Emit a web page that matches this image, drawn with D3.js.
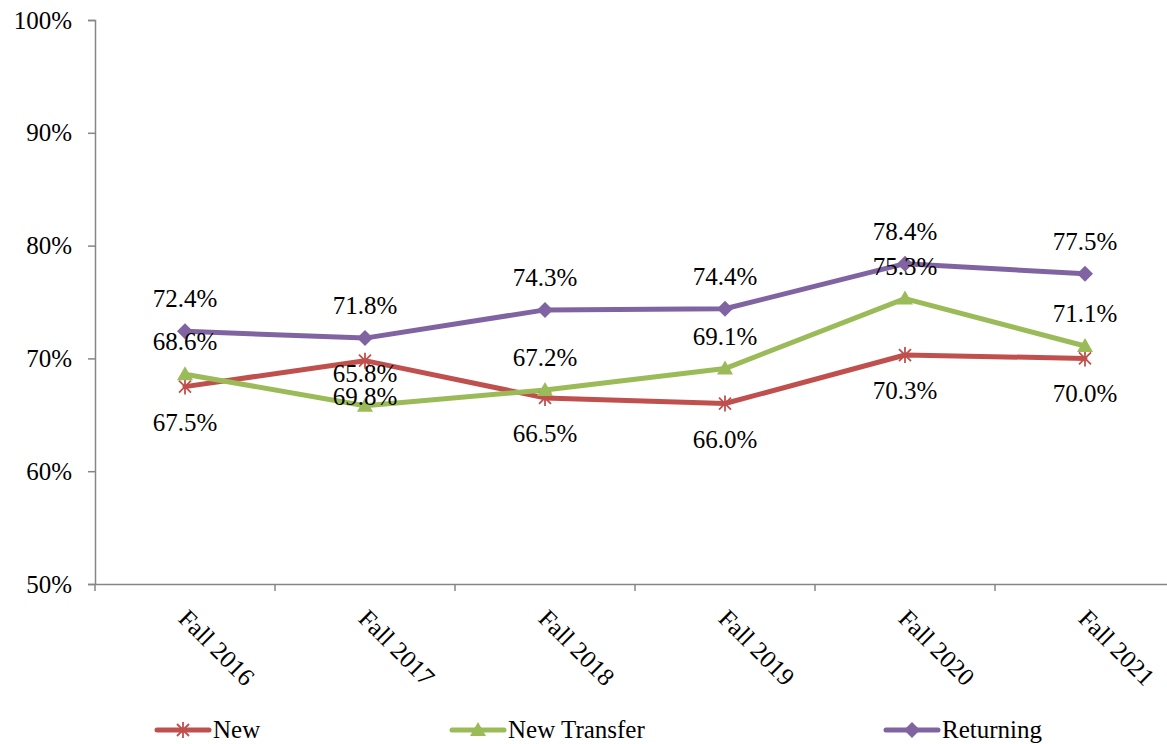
<!DOCTYPE html>
<html><head><meta charset="utf-8">
<script src="https://cdn.jsdelivr.net/npm/d3@7"></script>
<style>body{margin:0;background:#fff}svg{display:block}</style>
</head><body>
<svg id="c" width="1167" height="744" font-family="'Liberation Serif', 'Times New Roman', serif"></svg>
<script>
const categories = ["Fall 2016","Fall 2017","Fall 2018","Fall 2019","Fall 2020","Fall 2021"];
const newVals = [67.5, 69.8, 66.5, 66.0, 70.3, 70.0];
const transferVals = [68.6, 65.8, 67.2, 69.1, 75.3, 71.1];
const returningVals = [72.4, 71.8, 74.3, 74.4, 78.4, 77.5];
const yTicks = [50, 60, 70, 80, 90, 100];
const seriesNames = ["New", "New Transfer", "Returning"];

const series = [
  {name: seriesNames[0], values: newVals, color: "#C0504D", marker: "star", labelPos: "below"},
  {name: seriesNames[1], values: transferVals, color: "#9BBB59", marker: "triangle", labelPos: "above"},
  {name: seriesNames[2], values: returningVals, color: "#8064A2", marker: "diamond", labelPos: "above"}
];

const FONT = "'Liberation Serif', 'Times New Roman', serif";
const svg = d3.select("#c");
const mLeft = 95, mRight = 1175, mTop = 20, mBottom = 584;
const x = d3.scaleBand().domain(categories).range([mLeft, mRight]);
const y = d3.scaleLinear().domain([50, 100]).range([mBottom, mTop]);
const axisColor = "#868686";

// Y axis
const ya = svg.append("g").attr("transform", `translate(${mLeft},0)`)
  .call(d3.axisLeft(y).tickValues(yTicks).tickSize(7).tickPadding(16).tickFormat(d => d + "%"));
ya.attr("font-family", FONT).attr("font-size", 25);
ya.select(".domain").attr("stroke", axisColor).attr("stroke-width", 1.5);
ya.selectAll(".tick line").attr("stroke", axisColor).attr("stroke-width", 1.5);
ya.selectAll(".tick text").attr("fill", "#000").attr("font-family", FONT).attr("font-size", 25);

// X axis
const xa = svg.append("g").attr("transform", `translate(0,${mBottom})`)
  .call(d3.axisBottom(x).tickSize(0).tickFormat(""));
xa.select(".domain").attr("stroke", axisColor).attr("stroke-width", 1.5);
xa.selectAll(".tick").remove();
const bounds = categories.map(c => x(c)).concat([x(categories[categories.length-1]) + x.bandwidth()]);
svg.append("g").selectAll("line").data(bounds).join("line")
  .attr("x1", d => d).attr("x2", d => d).attr("y1", mBottom).attr("y2", mBottom + 7)
  .attr("stroke", axisColor).attr("stroke-width", 1.5);
svg.append("g").selectAll("text").data(categories).join("text")
  .attr("transform", d => `translate(${x(d) + x.bandwidth()/2 - 8},${mBottom + 36}) rotate(45)`)
  .attr("font-family", FONT).attr("font-size", 25)
  .text(d => d);

const cx = c => x(c) + x.bandwidth()/2;
const line = d3.line().x((d, i) => cx(categories[i])).y(d => y(d));

function drawMarker(g, type, color, px, py) {
  if (type === "diamond") {
    g.append("path").attr("d", `M${px},${py-8}L${px+8},${py}L${px},${py+8}L${px-8},${py}Z`).attr("fill", color);
  } else if (type === "triangle") {
    g.append("path").attr("d", `M${px},${py-8}L${px+8},${py+6}L${px-8},${py+6}Z`).attr("fill", color);
  } else {
    const s = 6;
    g.append("path").attr("d", `M${px-s},${py-s}L${px+s},${py+s}M${px-s},${py+s}L${px+s},${py-s}M${px},${py-8}L${px},${py+8}`)
      .attr("stroke", color).attr("stroke-width", 1.8).attr("fill", "none");
  }
}

series.forEach(s => {
  svg.append("path").datum(s.values).attr("d", line)
    .attr("fill", "none").attr("stroke", s.color).attr("stroke-width", 5)
    .attr("stroke-linejoin", "round").attr("stroke-linecap", "round");
});
series.forEach(s => {
  const g = svg.append("g");
  s.values.forEach((v, i) => drawMarker(g, s.marker, s.color, cx(categories[i]), y(v)));
});
series.forEach(s => {
  svg.append("g").selectAll("text").data(s.values).join("text")
    .attr("x", (d, i) => cx(categories[i]))
    .attr("y", d => s.labelPos === "above" ? y(d) - 24 : y(d) + 44)
    .attr("text-anchor", "middle").attr("font-family", FONT).attr("font-size", 25)
    .text(d => d.toFixed(1) + "%");
});

// Legend
const legendX = [157, 452, 886];
const legendY = 730;
series.forEach((s, i) => {
  const g = svg.append("g");
  const lx = legendX[i];
  g.append("line").attr("x1", lx).attr("x2", lx + 52).attr("y1", legendY).attr("y2", legendY)
    .attr("stroke", s.color).attr("stroke-width", 5).attr("stroke-linecap", "round");
  drawMarker(g, s.marker, s.color, lx + 26, legendY);
  g.append("text").attr("x", lx + 56).attr("y", legendY + 8).attr("font-family", FONT).attr("font-size", 25).text(s.name);
});
</script>
</body></html>
